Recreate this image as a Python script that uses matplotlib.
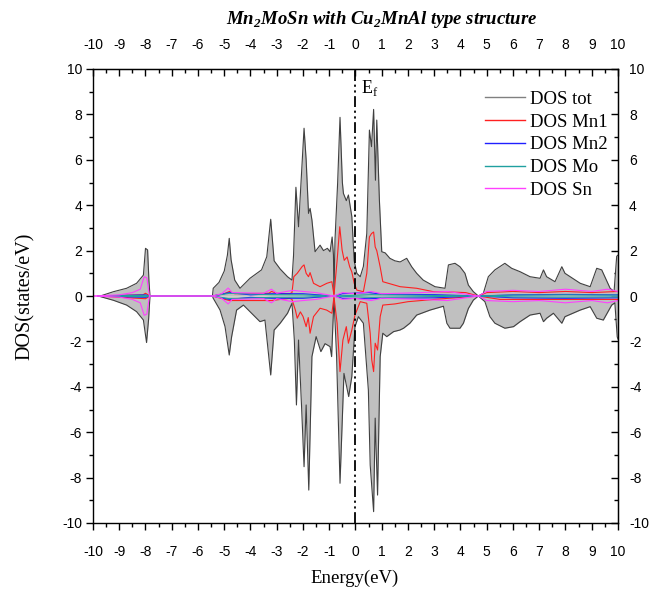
import matplotlib
matplotlib.use("Agg")
import matplotlib.pyplot as plt
from matplotlib.ticker import MultipleLocator
from matplotlib.lines import Line2D

plt.rcParams['font.family'] = ['Liberation Sans Narrow', 'Liberation Sans', 'DejaVu Sans']
plt.rcParams['axes.unicode_minus'] = False
plt.rcParams['mathtext.fontset'] = 'custom'
plt.rcParams['mathtext.rm'] = 'Liberation Serif'
plt.rcParams['mathtext.bf'] = 'Liberation Serif:bold:italic'

# Total DOS, spin up
tot_up_e = [-9.8, -9.67, -9.22, -8.72, -8.34, -8.08, -8.0, -7.92, -7.87, -7.83,
            -5.45, -5.42, -5.2, -5.0, -4.88, -4.81, -4.74, -4.6, -4.40, -4.02,
            -3.58, -3.38, -3.23, -3.10, -2.87, -2.59, -2.42, -2.36, -2.27, -2.17,
            -1.96, -1.88, -1.79, -1.73, -1.66, -1.54, -1.35, -1.22, -1.07, -0.97,
            -0.89, -0.84, -0.82, -0.78, -0.68, -0.59, -0.5, -0.46, -0.35, -0.27,
            -0.14, -0.05, 0.05, 0.18, 0.30, 0.43, 0.53, 0.61, 0.69, 0.76,
            0.81, 0.91, 1.0, 1.13, 1.31, 1.50, 1.70, 1.95, 2.14, 2.33,
            2.58, 3.03, 3.41, 3.54, 3.79, 3.98, 4.17, 4.30, 4.49, 4.68,
            4.87, 5.06, 5.31, 5.69, 5.95, 6.27, 6.65, 7.03, 7.16, 7.28,
            7.60, 7.86, 7.98, 8.56, 8.94, 9.19, 9.38, 9.70, 9.85, 9.95, 10.0]
tot_up = [0, 0.02, 0.19, 0.34, 0.56, 0.92, 2.1, 2.03, 0.7, 0,
          0, 0.34, 0.6, 1.1, 1.8, 2.54, 1.6, 0.7, 0.34, 0.78,
          1.15, 1.73, 3.38, 1.55, 1.19, 0.85, 0.7, 1.8, 4.79, 3.05,
          7.39, 6.0, 3.64, 3.86, 3.35, 1.95, 2.24, 2.0, 2.1, 1.95,
          2.6, 1.8, 0.1, 2.5, 5.0, 7.87, 5.0, 4.52, 4.2, 4.45,
          3.5, 1.55, 1.0, 0.85, 1.3, 2.76, 7.31, 6.58, 8.22, 5.1,
          7.75, 4.23, 1.95, 1.9, 1.66, 1.55, 1.5, 1.66, 1.29, 1.0,
          0.7, 0.41, 0.34, 1.37, 1.44, 1.29, 1.0, 0.48, 0.19, 0,
          0.12, 0.85, 1.15, 1.44, 1.22, 1.07, 0.85, 0.78, 1.15, 0.85,
          0.63, 1.29, 1.0, 0.56, 0.41, 1.22, 1.15, 0.34, 0.2, 1.75, 1.8]

# Total DOS, spin down
tot_dn_e = [-9.8, -9.22, -8.72, -8.34, -8.08, -7.96, -7.88, -7.83,
            -5.45, -5.42, -5.16, -4.97, -4.81, -4.72, -4.53, -4.27, -4.02, -3.64,
            -3.45, -3.23, -3.10, -2.87, -2.59, -2.42, -2.33, -2.25, -2.17, -2.05,
            -1.96, -1.88, -1.78, -1.66, -1.50, -1.32, -1.16, -0.97, -0.91, -0.82,
            -0.72, -0.59, -0.44, -0.26, -0.14, -0.02, 0.11, 0.30, 0.49, 0.56,
            0.69, 0.75, 0.84, 0.94, 1.04, 1.19, 1.45, 1.69, 1.83, 2.07,
            2.33, 2.84, 3.35, 3.48, 3.60, 3.98, 4.11, 4.30, 4.49, 4.68,
            4.93, 5.12, 5.31, 5.69, 6.02, 6.27, 6.65, 7.03, 7.16, 7.28,
            7.54, 7.86, 7.98, 8.56, 8.94, 9.19, 9.44, 9.76, 9.88, 9.97, 10.0]
tot_dn = [0, -0.19, -0.40, -0.69, -1.06, -2.05, -1.0, 0,
          0, -0.1, -0.62, -1.35, -2.6, -1.8, -0.62, -0.40, -0.69, -1.13,
          -1.06, -3.48, -1.5, -1.2, -0.76, -0.32, -1.94, -4.8, -1.94, -5.0,
          -7.52, -4.8, -8.55, -2.67, -1.79, -2.45, -2.1, -2.23, -2.67, -0.1,
          -2.67, -8.25, -3.41, -4.43, -3.55, -1.35, -0.91, -1.2, -4.14, -7.45,
          -9.5, -5.38, -8.77, -2.67, -1.64, -1.79, -1.57, -1.5, -1.42, -1.2,
          -0.84, -0.62, -0.45, -1.2, -1.42, -1.42, -1.2, -0.55, -0.18, 0,
          -0.25, -0.91, -1.2, -1.42, -1.35, -1.13, -0.84, -0.76, -1.13, -0.98,
          -0.76, -1.2, -0.91, -0.62, -0.47, -0.98, -1.06, -0.4, -0.3, -1.8, -1.9]

# Mn1
mn1_up_e = [-9.8, -8.1, -8.0, -7.9, -7.83, -5.45, -5.0, -4.8, -4.6, -3.3,
            -3.2, -3.0, -2.5, -2.42, -2.35, -2.22, -2.03, -1.96, -1.88, -1.79,
            -1.73, -1.60, -1.35, -1.09, -0.9, -0.82, -0.70, -0.60, -0.51, -0.43,
            -0.32, -0.22, -0.14, -0.05, 0.05, 0.30, 0.43, 0.53, 0.61, 0.69,
            0.75, 0.81, 0.94, 1.04, 1.7, 2.33, 2.97, 3.5, 4.2, 4.68,
            5.0, 6.0, 7.0, 8.0, 9.0, 10.0]
mn1_up = [0, 0.05, 0.12, 0.05, 0, 0, 0.1, 0.2, 0.1, 0.12,
          0.2, 0.12, 0.1, 0.15, 0.85, 1.0, 1.3, 1.37, 1.0, 0.85,
          1.03, 0.56, 0.41, 0.56, 0.63, 0.04, 1.57, 3.05, 2.02, 1.57,
          1.72, 1.28, 1.06, 0.56, 0.26, 0.19, 1.0, 2.6, 2.75, 2.82,
          2.16, 2.0, 1.28, 0.63, 0.41, 0.34, 0.19, 0.18, 0.15, 0,
          0.15, 0.2, 0.15, 0.2, 0.15, 0.2]
mn1_dn_e = [-9.8, -8.0, -7.83, -5.45, -4.8, -3.2, -2.5, -2.42, -2.29, -2.22,
            -2.1, -2.0, -1.88, -1.80, -1.73, -1.60, -1.35, -1.1, -0.9, -0.82,
            -0.70, -0.59, -0.48, -0.35, -0.27, -0.14, -0.02, 0.18, 0.43, 0.56,
            0.62, 0.69, 0.75, 0.84, 0.94, 1.04, 1.5, 2.0, 3.0, 4.68,
            5.5, 7.0, 8.5, 10.0]
mn1_dn = [0, -0.12, 0, 0, -0.2, -0.2, -0.1, -0.15, -0.62, -0.98,
          -0.7, -0.9, -1.35, -0.95, -1.64, -0.91, -0.54, -0.62, -0.76, -0.05,
          -1.2, -3.33, -1.94, -1.35, -2.08, -1.5, -0.84, -0.25, -0.32, -1.64,
          -2.82, -3.33, -2.08, -2.38, -0.91, -0.4, -0.35, -0.25, -0.15, 0,
          -0.15, -0.15, -0.15, -0.15]

# Mn2
mn2_e = [-9.8, -8.0, -7.83, -5.45, -4.8, -4.0, -3.2, -2.0, -0.82, -0.5,
         0.5, 1.0, 3.0, 4.68, 6.0, 8.0, 10.0]
mn2_up = [0, 0.05, 0, 0, 0.15, 0.05, 0.1, 0.1, 0, 0.1,
          0.15, 0.08, 0.06, 0, 0.05, 0.07, 0.05]
mn2_dn = [0, -0.06, 0, 0, -0.15, -0.06, -0.1, -0.1, 0, -0.1,
          -0.12, -0.1, -0.08, 0, -0.08, -0.1, -0.08]

# Mo
mo_e = [-9.8, -8.0, -7.83, -5.45, -4.8, -3.2, -2.0, -0.82, 0.6, 2.0,
        4.68, 6.0, 8.0, 10.0]
mo_up = [0, 0.03, 0, 0, 0.12, 0.06, 0.05, 0, 0.06, 0.04,
         0, 0.04, 0.05, 0.04]
mo_dn = [0, -0.03, 0, 0, -0.12, -0.06, -0.05, 0, -0.06, -0.04,
         0, -0.04, -0.05, -0.04]

# Sn
sn_e = [-10.0, -9.0, -8.5, -8.2, -8.05, -7.95, -7.85, -5.45, -5.1, -4.85,
        -4.7, -3.5, -3.2, -3.0, -2.4, -2.0, -1.5, -0.82, -0.5, 0.0,
        0.6, 1.0, 2.5, 3.5, 4.68, 5.0, 6.0, 7.0, 8.0, 9.0, 9.6, 10.0]
sn_up = [0, 0.05, 0.15, 0.3, 0.85, 0.8, 0, 0, 0.1, 0.35,
         0.15, 0.12, 0.3, 0.12, 0.25, 0.2, 0.15, 0, 0.15, 0.1,
         0.2, 0.1, 0.15, 0.2, 0, 0.2, 0.25, 0.2, 0.3, 0.2, 0.3, 0.2]
sn_dn = [-v for v in sn_up]

labels = ['DOS tot', 'DOS Mn1', 'DOS Mn2', 'DOS Mo', 'DOS Sn']
colors = ['#808080', '#FF2020', '#2020FF', '#20A0A0', '#FF40FF']

fig = plt.figure(figsize=(6.68, 5.99), dpi=100)
ax = fig.add_axes([93 / 668, 1 - 523 / 599, 525 / 668, 454 / 599])

# total DOS as grey filled area
ax.fill_between(tot_up_e, tot_up, 0, color='#C0C0C0', lw=0)
ax.fill_between(tot_dn_e, tot_dn, 0, color='#C0C0C0', lw=0)
ax.plot(tot_up_e, tot_up, color='#404040', lw=0.8)
ax.plot(tot_dn_e, tot_dn, color='#404040', lw=0.8)

# partial DOS
lw = 0.8
ax.plot(mn1_up_e, mn1_up, color=colors[1], lw=lw)
ax.plot(mn1_dn_e, mn1_dn, color=colors[1], lw=lw)
ax.plot(mn2_e, mn2_up, color=colors[2], lw=lw)
ax.plot(mn2_e, mn2_dn, color=colors[2], lw=lw)
ax.plot(mo_e, mo_up, color=colors[3], lw=lw)
ax.plot(mo_e, mo_dn, color=colors[3], lw=lw)
ax.plot(sn_e, sn_up, color=colors[4], lw=lw)
ax.plot(sn_e, sn_dn, color=colors[4], lw=lw)

# Fermi level
ax.axvline(0, color='black', lw=1.3, ls=(0, (6, 2, 1.2, 2, 1.2, 2)))
ax.text(0.2, 8.95, 'E$_\\mathrm{f}$', fontsize=13, family='Liberation Serif')

ax.set_xlim(-10, 10)
ax.set_ylim(-10, 10)

ax.xaxis.set_major_locator(MultipleLocator(1))
ax.xaxis.set_minor_locator(MultipleLocator(0.5))
ax.yaxis.set_major_locator(MultipleLocator(2))
ax.yaxis.set_minor_locator(MultipleLocator(1))
ax.tick_params(which='major', direction='out', length=5, width=1, labelsize=10, pad=11)
ax.tick_params(which='minor', direction='out', length=3, width=1)
ax.tick_params(axis='y', which='major', pad=3)

top = ax.secondary_xaxis('top')
top.xaxis.set_major_locator(MultipleLocator(1))
top.xaxis.set_minor_locator(MultipleLocator(0.5))
top.tick_params(which='major', direction='in', length=5, width=1, labelsize=10, pad=12)
top.tick_params(which='minor', direction='in', length=3, width=1)

right = ax.secondary_yaxis('right')
right.yaxis.set_major_locator(MultipleLocator(2))
right.yaxis.set_minor_locator(MultipleLocator(1))
right.tick_params(which='major', direction='in', length=5, width=1, labelsize=10, pad=8)
right.tick_params(which='minor', direction='in', length=3, width=1)

for sp in ax.spines.values():
    sp.set_linewidth(1)

handles = [Line2D([], [], color=c, lw=1.0) for c in colors]
ax.legend(handles, labels, loc='upper left', bbox_to_anchor=(0.747, 0.952),
          frameon=False, borderpad=0, borderaxespad=0, handlelength=2.1,
          handletextpad=0.3, labelspacing=0.3,
          prop={'family': 'Liberation Serif', 'size': 13.5})

fig.text(382 / 668, 1 - 19 / 599,
         'Mn$_\\mathbf{2}$MoSn with Cu$_\\mathbf{2}$MnAl type structure',
         ha='center', va='center', fontsize=13.5, family='Liberation Serif',
         style='italic', weight='bold')
fig.text(355 / 668, 1 - 578 / 599, 'Energy(eV)', ha='center', va='center',
         fontsize=13.5, family='Liberation Serif')
fig.text(25 / 668, 1 - 296 / 599, 'DOS(states/eV)', ha='center', va='center',
         rotation=90, fontsize=14.5, family='Liberation Serif')

fig.savefig('out.png', dpi=100)
